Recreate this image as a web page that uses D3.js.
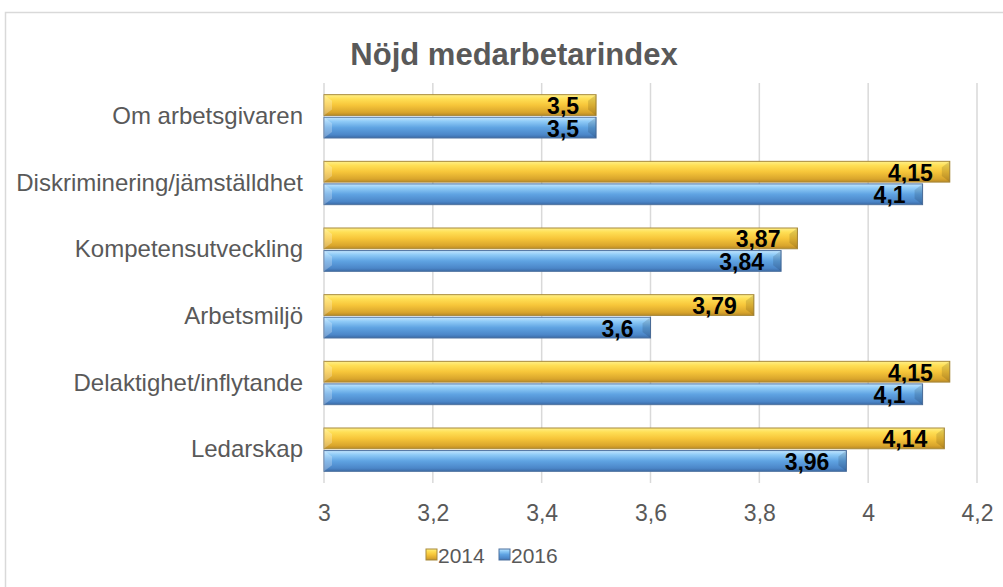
<!DOCTYPE html>
<html>
<head>
<meta charset="utf-8">
<script src="https://cdn.jsdelivr.net/npm/d3@7"></script>
<style>
  html, body { margin: 0; padding: 0; background: #fff; }
  svg { display: block; font-family: Arial, "Liberation Sans", sans-serif; }
</style>
</head>
<body>
<div id="chart"></div>
<script>
const categories = ['Om arbetsgivaren', 'Diskriminering/jämställdhet', 'Kompetensutveckling', 'Arbetsmiljö', 'Delaktighet/inflytande', 'Ledarskap']
const seriesNames = ['2014', '2016']
const values2014 = [3.5, 4.15, 3.87, 3.79, 4.15, 4.14]
const values2016 = [3.5, 4.1, 3.84, 3.6, 4.1, 3.96]
const xTicks = [3, 3.2, 3.4, 3.6, 3.8, 4, 4.2]

const width = 1003
const height = 587
const margin = { top: 83, right: 26, bottom: 104, left: 324 }

const svg = d3.select('#chart').append('svg')
  .attr('xmlns', 'http://www.w3.org/2000/svg')
  .attr('width', width)
  .attr('height', height)

// gradients for the bevelled bars
const defs = svg.append('defs')
const grads = {
  '2014': ['#fff08a', '#ffdf55', '#f7c63a', '#d9a52c', '#b98a26'],
  '2016': ['#c4e6ff', '#8fcbf7', '#5fa3e2', '#4b86c8', '#3b6aa5']
}
Object.entries(grads).forEach(([k, cols]) => {
  const lg = defs.append('linearGradient').attr('id', 'g' + k).attr('x1', 0).attr('x2', 0).attr('y1', 0).attr('y2', 1)
  const offs = [0, 0.2, 0.5, 0.85, 1]
  cols.forEach((c, i) => lg.append('stop').attr('offset', offs[i]).attr('stop-color', c))
})
const strokeCol = { '2014': '#a8893a', '2016': '#4e72a0' }

// outer frame
svg.append('rect').attr('x', 5.5).attr('y', 12.5).attr('width', 1010).attr('height', 600)
  .attr('fill', 'none').attr('stroke', '#d9d9d9').attr('stroke-width', 1.5)

svg.append('text').attr('x', 514).attr('y', 65).attr('text-anchor', 'middle')
  .attr('font-size', 31).attr('font-weight', 'bold').attr('fill', '#595959')
  .text('Nöjd medarbetarindex')

const x = d3.scaleLinear().domain([3, 4.2]).range([margin.left, 977])
const y = d3.scaleBand().domain(categories).range([margin.top, height - margin.bottom])
  .paddingInner(0.35).paddingOuter(0.175)
const ySub = d3.scaleBand().domain(seriesNames).range([0, y.bandwidth()]).paddingInner(0.08)

// gridlines
svg.append('g').selectAll('line').data(xTicks).join('line')
  .attr('x1', (d) => x(d)).attr('x2', (d) => x(d))
  .attr('y1', margin.top).attr('y2', height - margin.bottom)
  .attr('stroke', '#d9d9d9').attr('stroke-width', 1.5)

// x axis labels
const xAxis = svg.append('g').attr('transform', `translate(0,${height - margin.bottom})`)
  .call(d3.axisBottom(x).tickValues(xTicks).tickSize(0).tickPadding(22)
    .tickFormat((d) => String(d).replace('.', ',')))
xAxis.select('.domain').remove()
xAxis.selectAll('text').attr('font-size', 23).attr('fill', '#595959').attr('font-family', 'Arial, "Liberation Sans", sans-serif')

// category labels
const yAxis = svg.append('g').attr('transform', `translate(${margin.left},0)`)
  .call(d3.axisLeft(y).tickSize(0).tickPadding(21))
yAxis.select('.domain').remove()
yAxis.selectAll('text').attr('font-size', 24).attr('fill', '#595959').attr('font-family', 'Arial, "Liberation Sans", sans-serif')

const rows = categories.map((c, i) => ({ cat: c, vals: [
  { key: '2014', v: values2014[i] },
  { key: '2016', v: values2016[i] }
] }))

const groups = svg.append('g').selectAll('g').data(rows).join('g')
  .attr('transform', (d) => `translate(0,${y(d.cat)})`)

const bars = groups.selectAll('g.bar').data((d) => d.vals).join('g').attr('class', 'bar')

bars.append('rect')
  .attr('x', x(3)).attr('y', (d) => ySub(d.key))
  .attr('width', (d) => x(d.v) - x(3)).attr('height', ySub.bandwidth())
  .attr('fill', (d) => `url(#g${d.key})`)
  .attr('stroke', (d) => strokeCol[d.key]).attr('stroke-width', 1)

// bevel highlights at the ends
bars.append('path')
  .attr('d', (d) => {
    const y0 = ySub(d.key), h = ySub.bandwidth(), x0 = x(3)
    return `M${x0},${y0}L${x0 + 8},${y0 + 6}L${x0 + 8},${y0 + h - 6}L${x0},${y0 + h}Z`
  })
  .attr('fill', '#fff').attr('opacity', 0.25)
bars.append('path')
  .attr('d', (d) => {
    const y0 = ySub(d.key), h = ySub.bandwidth(), x1 = x(d.v)
    return `M${x1},${y0}L${x1 - 8},${y0 + 6}L${x1 - 8},${y0 + h - 6}L${x1},${y0 + h}Z`
  })
  .attr('fill', '#000').attr('opacity', 0.12)

bars.append('text')
  .attr('x', (d) => x(d.v) - 17)
  .attr('y', (d) => ySub(d.key) + ySub.bandwidth() / 2 + 9)
  .attr('text-anchor', 'end')
  .attr('font-size', 23).attr('font-weight', 'bold').attr('fill', '#000')
  .text((d) => String(d.v).replace('.', ','))

// legend
const legend = svg.append('g').attr('transform', 'translate(426,555)')
seriesNames.forEach((s, i) => {
  const lg = legend.append('g').attr('transform', `translate(${i * 73},0)`)
  lg.append('rect').attr('x', 0).attr('y', -6).attr('width', 11).attr('height', 11)
    .attr('fill', `url(#g${s})`).attr('stroke', strokeCol[s]).attr('stroke-width', 1)
  lg.append('text').attr('x', 12).attr('y', 8).attr('font-size', 21).attr('fill', '#595959').text(s)
})
</script>
</body>
</html>
